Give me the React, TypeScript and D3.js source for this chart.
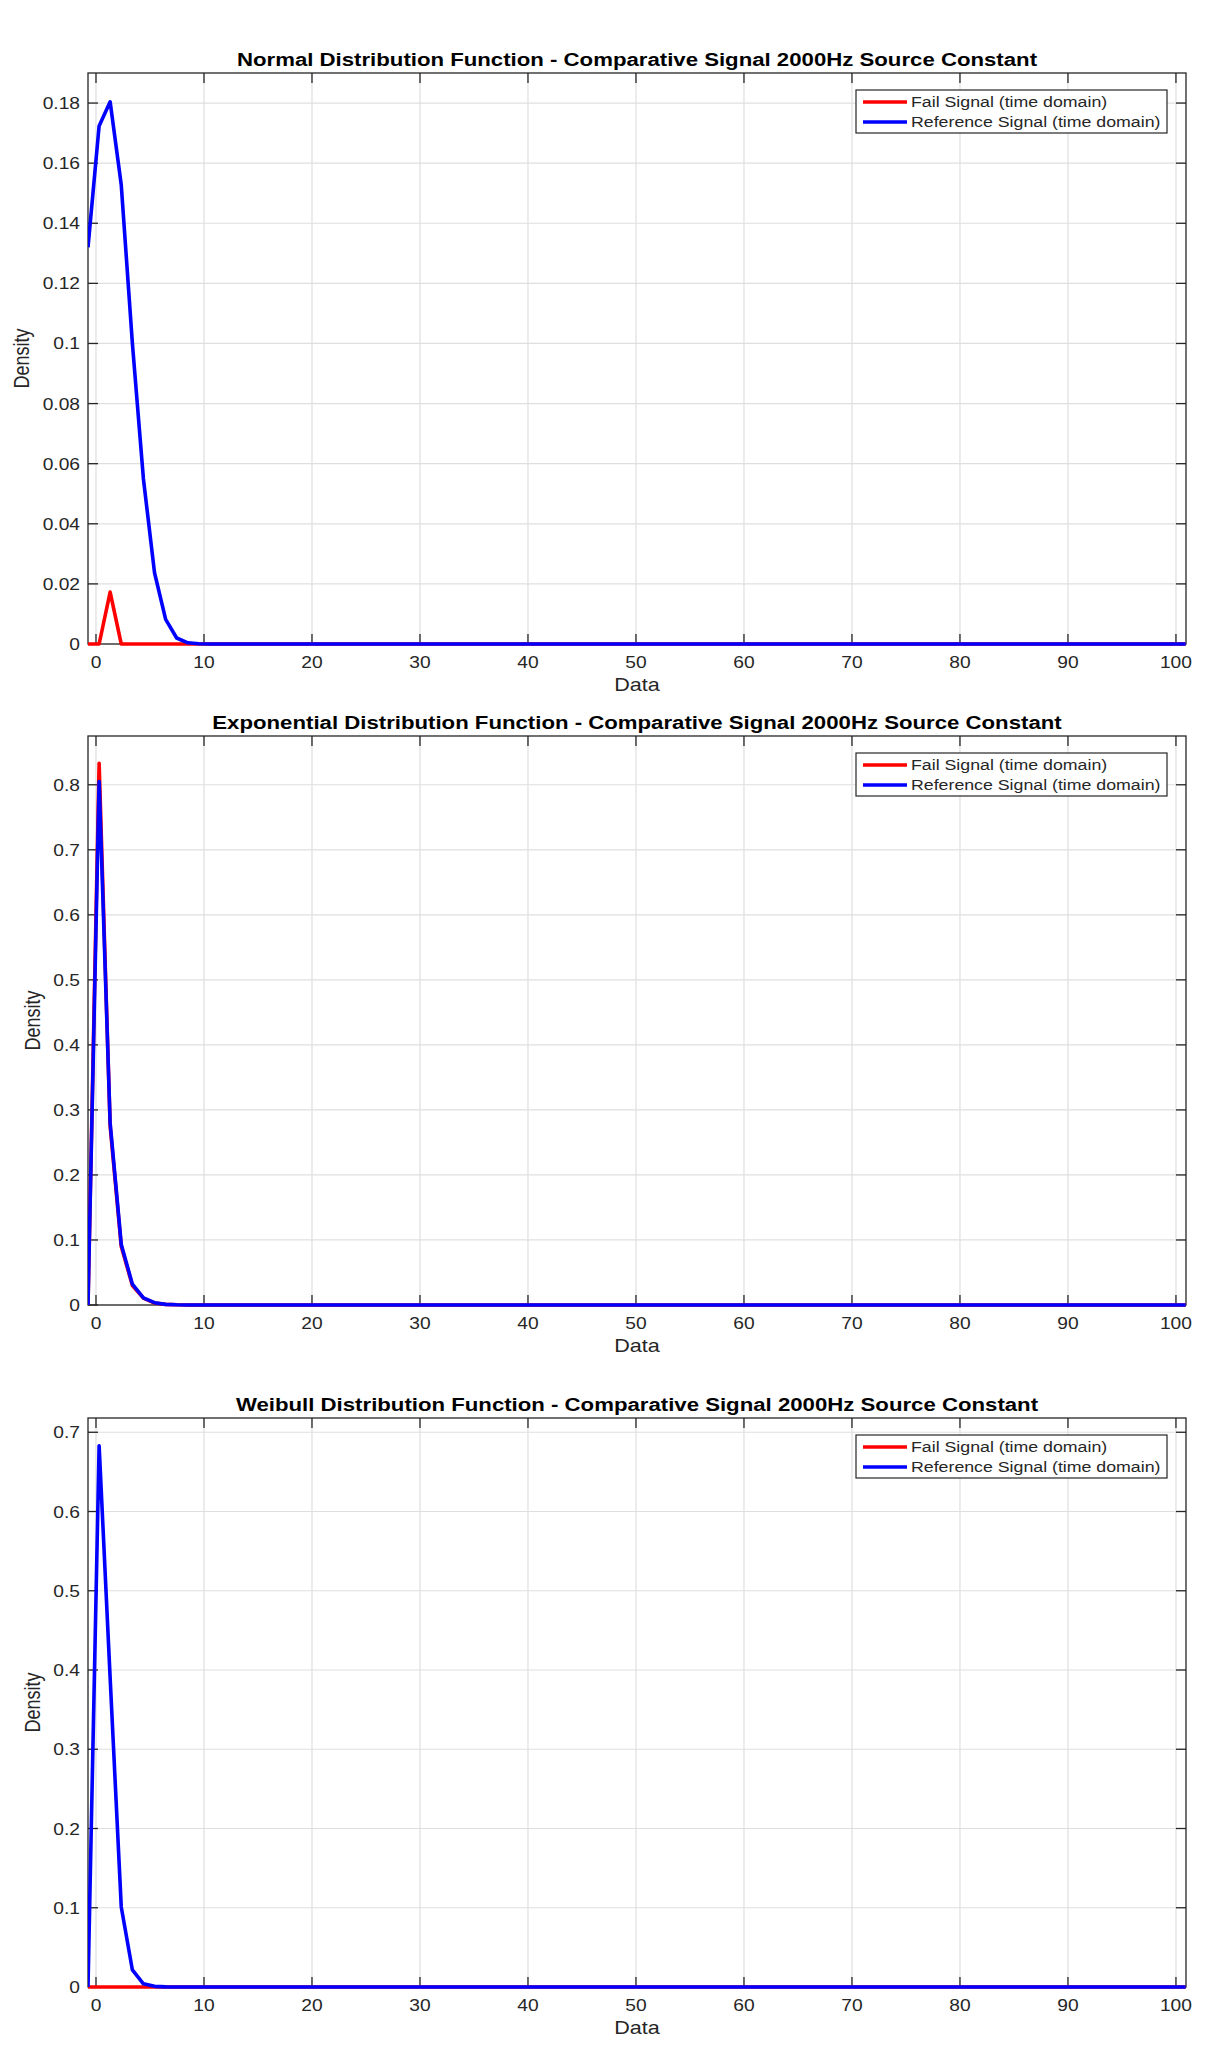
import React from "react";
import * as d3 from "d3";

const X_VALUES = [-0.74, 0.29, 1.31, 2.34, 3.37, 4.39, 5.42, 6.45, 7.47, 8.5, 9.53, 10.55, 100.9];
const X_TICKS = [0, 10, 20, 30, 40, 50, 60, 70, 80, 90, 100];

const NORMAL_FAIL = [0, 0, 0.0173, 0, 0, 0, 0, 0, 0, 0, 0, 0, 0];
const NORMAL_REF = [0.132, 0.1724, 0.1804, 0.1527, 0.1, 0.055, 0.0237, 0.0082, 0.002, 0.0004, 0.0001, 0, 0];
const NORMAL_Y_TICKS = [0, 0.02, 0.04, 0.06, 0.08, 0.1, 0.12, 0.14, 0.16, 0.18];

const EXP_FAIL = [0, 0.833, 0.275, 0.09, 0.03, 0.0105, 0.003, 0.001, 0.0003, 0, 0, 0, 0];
const EXP_REF = [0, 0.805, 0.28, 0.093, 0.032, 0.011, 0.0035, 0.001, 0.0003, 0, 0, 0, 0];
const EXP_Y_TICKS = [0, 0.1, 0.2, 0.3, 0.4, 0.5, 0.6, 0.7, 0.8];

const WEIBULL_FAIL = [0, 0, 0, 0, 0, 0, 0, 0, 0, 0, 0, 0, 0];
const WEIBULL_REF = [0, 0.683, 0.39, 0.101, 0.0215, 0.004, 0.0008, 0.0001, 0, 0, 0, 0, 0];
const WEIBULL_Y_TICKS = [0, 0.1, 0.2, 0.3, 0.4, 0.5, 0.6, 0.7];

const LEGEND_LABELS = ["Fail Signal (time domain)", "Reference Signal (time domain)"];
const TITLES = [
  "Normal Distribution Function - Comparative Signal 2000Hz Source Constant",
  "Exponential Distribution Function - Comparative Signal 2000Hz Source Constant",
  "Weibull Distribution Function - Comparative Signal 2000Hz Source Constant",
];

const FONT = "'Liberation Sans', Arial, Helvetica, sans-serif";
const SX = 1.2;
const LEFT = 88;
const RIGHT = 1186;
const X_DOMAIN: [number, number] = [-0.74, 100.93];
const AXIS_COLOR = "#262626";
const GRID_COLOR = "#dfdfdf";
const RED = "#ff0000";
const BLUE = "#0000ff";

type PanelProps = {
  id: string;
  title: string;
  top: number;
  bottom: number;
  yMax: number;
  yTicks: number[];
  fail: number[];
  ref: number[];
  yLabelX: number;
};

function HText(props: { x: number; y: number; anchor?: string; size: number; weight?: string; fill?: string; children: React.ReactNode }) {
  const { x, y, anchor = "start", size, weight = "normal", fill = AXIS_COLOR, children } = props;
  return (
    <text
      transform={`translate(${x},${y}) scale(${SX},1)`}
      textAnchor={anchor as any}
      fontSize={size}
      fontWeight={weight}
      fontFamily={FONT}
      fill={fill}
    >
      {children}
    </text>
  );
}

function Panel({ id, title, top, bottom, yMax, yTicks, fail, ref, yLabelX }: PanelProps) {
  const x = d3.scaleLinear().domain(X_DOMAIN).range([LEFT, RIGHT]);
  const y = d3.scaleLinear().domain([0, yMax]).range([bottom, top]);
  const line = d3
    .line<number>()
    .x((_, i) => x(X_VALUES[i]))
    .y((d) => y(d));
  const tickLen = 10;
  const fmt = (v: number) => String(+v.toFixed(3));
  const midX = (LEFT + RIGHT) / 2;
  const legTop = top + 17;
  return (
    <g>
      <defs>
        <clipPath id={`clip-${id}`}>
          <rect x={LEFT} y={top - 2} width={RIGHT - LEFT} height={bottom - top + 4} />
        </clipPath>
      </defs>
      <rect x={LEFT} y={top} width={RIGHT - LEFT} height={bottom - top} fill="#ffffff" />
      {/* grid */}
      {X_TICKS.map((t) => (
        <line key={`gx${t}`} x1={x(t)} x2={x(t)} y1={top} y2={bottom} stroke={GRID_COLOR} strokeWidth={1.2} />
      ))}
      {yTicks.map((t) => (
        <line key={`gy${t}`} x1={LEFT} x2={RIGHT} y1={y(t)} y2={y(t)} stroke={GRID_COLOR} strokeWidth={1.2} />
      ))}
      {/* box */}
      <rect x={LEFT} y={top} width={RIGHT - LEFT} height={bottom - top} fill="none" stroke={AXIS_COLOR} strokeWidth={1.3} />
      {/* ticks */}
      {X_TICKS.map((t) => (
        <g key={`tx${t}`}>
          <line x1={x(t)} x2={x(t)} y1={bottom} y2={bottom - tickLen} stroke={AXIS_COLOR} strokeWidth={1.3} />
          <line x1={x(t)} x2={x(t)} y1={top} y2={top + tickLen} stroke={AXIS_COLOR} strokeWidth={1.3} />
          <HText x={x(t)} y={bottom + 24} anchor="middle" size={16}>
            {fmt(t)}
          </HText>
        </g>
      ))}
      {yTicks.map((t) => (
        <g key={`ty${t}`}>
          <line x1={LEFT} x2={LEFT + tickLen} y1={y(t)} y2={y(t)} stroke={AXIS_COLOR} strokeWidth={1.3} />
          <line x1={RIGHT} x2={RIGHT - tickLen} y1={y(t)} y2={y(t)} stroke={AXIS_COLOR} strokeWidth={1.3} />
          <HText x={LEFT - 8} y={y(t) + 6} anchor="end" size={16}>
            {fmt(t)}
          </HText>
        </g>
      ))}
      {/* series */}
      <g clipPath={`url(#clip-${id})`}>
        <path d={line(fail) || ""} fill="none" stroke={RED} strokeWidth={3.6} strokeLinejoin="round" />
        <path d={line(ref) || ""} fill="none" stroke={BLUE} strokeWidth={3.6} strokeLinejoin="round" />
      </g>
      {/* title */}
      <HText x={midX} y={top - 7} anchor="middle" size={18.5} weight="bold" fill="#000000">
        {title}
      </HText>
      {/* x label */}
      <HText x={midX} y={bottom + 47} anchor="middle" size={18}>
        Data
      </HText>
      {/* y label */}
      <text
        transform={`translate(${yLabelX},${(top + bottom) / 2}) rotate(-90) scale(1,${SX})`}
        textAnchor="middle"
        fontSize={18}
        fontFamily={FONT}
        fill={AXIS_COLOR}
      >
        Density
      </text>
      {/* legend */}
      <rect x={856} y={legTop} width={311} height={43} fill="#ffffff" stroke={AXIS_COLOR} strokeWidth={1.2} />
      {LEGEND_LABELS.map((lab, i) => (
        <g key={lab}>
          <line x1={863} x2={907} y1={legTop + 12 + i * 20} y2={legTop + 12 + i * 20} stroke={i === 0 ? RED : BLUE} strokeWidth={3.6} />
          <HText x={911} y={legTop + 17 + i * 20} size={14.8}>
            {lab}
          </HText>
        </g>
      ))}
    </g>
  );
}

export default function App() {
  return (
    <svg
      width={1221}
      height={2048}
      style={{ position: "absolute", left: 0, top: 0, background: "#ffffff" }}
    >
      <rect x={0} y={0} width={1221} height={2048} fill="#ffffff" />
      <Panel id="n" title={TITLES[0]} top={73} bottom={644} yMax={0.19} yTicks={NORMAL_Y_TICKS} fail={NORMAL_FAIL} ref={NORMAL_REF} yLabelX={29} />
      <Panel id="e" title={TITLES[1]} top={736} bottom={1305} yMax={0.875} yTicks={EXP_Y_TICKS} fail={EXP_FAIL} ref={EXP_REF} yLabelX={40} />
      <Panel id="w" title={TITLES[2]} top={1418} bottom={1987} yMax={0.718} yTicks={WEIBULL_Y_TICKS} fail={WEIBULL_FAIL} ref={WEIBULL_REF} yLabelX={40} />
    </svg>
  );
}
